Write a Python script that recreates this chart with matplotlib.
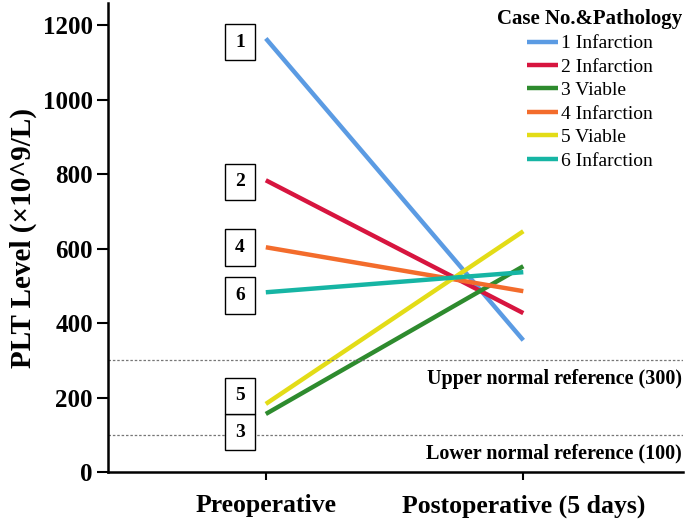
import matplotlib.pyplot as plt

plt.rcParams['font.family'] = ['Liberation Serif', 'DejaVu Serif']

# 数据
stages = ['Preoperative', 'Postoperative (5 days)']
cases = ['1', '2', '3', '4', '5', '6']
pathology = ['Infarction', 'Infarction', 'Viable', 'Infarction', 'Viable', 'Infarction']
pre_plt = [1165, 784, 156, 604, 183, 483]
post_plt = [354, 427, 553, 486, 647, 537]
colors = ['#5b9be3', '#d7153f', '#2e8b2e', '#f36c2c', '#e3dc17', '#16b5a4']
ref_levels = [300, 100]
ref_labels = ['Upper normal reference (300)', 'Lower normal reference (100)']

# 标签框位置（避免 5 与 3 重叠）
box_y = [1155, 780, 107, 603, 205, 474]

fig = plt.figure(figsize=(6.85, 5.21), dpi=100)
ax = fig.add_axes([0.158, 0.094, 0.839, 0.9])

xs = [0, 1]
for i in range(len(cases)):
    ax.plot(xs, [pre_plt[i], post_plt[i]], color=colors[i], lw=3.2,
            solid_capstyle='butt', label=cases[i] + ' ' + pathology[i])
    ax.text(-0.1, box_y[i], cases[i], ha='center', va='center', fontsize=14,
            fontweight='bold',
            bbox=dict(boxstyle='square,pad=0.5', fc='white', ec='black', lw=1.0))

for lv, lab in zip(ref_levels, ref_labels):
    ax.axhline(lv, color='#777777', ls=(0, (2, 1.5)), lw=0.9)
    ax.text(1.616, lv - 22, lab, ha='right', va='top', fontsize=14.5, fontweight='bold')

ax.set_xlim(-0.612, 1.62)
ax.set_ylim(0, 1260)
ax.set_xticks(xs)
ax.set_xticklabels(stages, fontsize=18.5, fontweight='bold')
ax.set_yticks([0, 200, 400, 600, 800, 1000, 1200])
ax.tick_params(axis='y', labelsize=18, width=1.5, length=8, pad=3)
ax.tick_params(axis='x', width=1.5, length=6, pad=10)
for t in ax.get_yticklabels():
    t.set_fontweight('bold')
ax.set_ylabel('PLT Level (×10^9/L)', fontsize=21, fontweight='bold')
ax.yaxis.set_label_coords(-0.124, 0.5)

ax.spines['top'].set_visible(False)
ax.spines['right'].set_visible(False)
ax.spines['left'].set_linewidth(1.8)
ax.spines['bottom'].set_linewidth(1.8)

leg = ax.legend(loc='upper right', bbox_to_anchor=(1.03, 1.025), frameon=False,
                title='Case No.&Pathology', fontsize=14, handlelength=1.6,
                handletextpad=0.15, labelspacing=0.3)
leg.get_title().set_fontweight('bold')
leg.get_title().set_fontsize(15)

fig.savefig('out.png', dpi=100)
